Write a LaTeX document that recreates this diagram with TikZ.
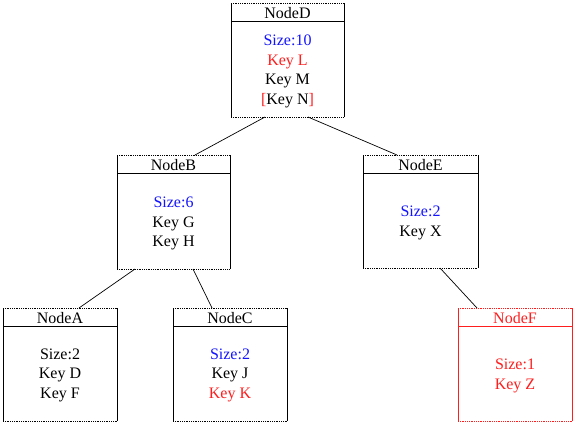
\documentclass[tikz,border=0pt]{standalone}
\usepackage{fontspec}
\setmainfont{Liberation Serif}
\usetikzlibrary{calc}
\definecolor{keyred}{RGB}{255,30,30}
\definecolor{keyblue}{RGB}{20,20,255}
\newcommand{\recbox}[6]{%
  \node[boxshape, minimum width=#4pt, minimum height=#5pt] (#1) at (#2,#3) {};
  \draw[#6, line width=0.8pt] (#1.north west) -- (#1.south west) (#1.north east) -- (#1.south east);
  \draw[#6, densely dotted, line width=0.8pt] (#1.north west) -- (#1.north east) (#1.south west) -- (#1.south east);
  \draw[#6, line width=1.1pt] ([yshift=-18.5pt]#1.north west) -- ([yshift=-18.5pt]#1.north east);
}
\begin{document}
\begin{tikzpicture}[x=1pt,y=-1pt,
  boxshape/.style={rectangle, inner sep=0pt, outer sep=0pt},
  txt/.style={font=\fontsize{16}{19.5}\selectfont, align=center, inner sep=0pt},
  edge/.style={line width=0.7pt, black}]
\useasboundingbox (0,0) rectangle (575,424);
\fill[white] (0,0) rectangle (575,424);
% boxes
\recbox{D}{287.5}{60}{113}{114}{black}
\recbox{B}{173.5}{212}{113}{114}{black}
\recbox{E}{420.5}{211.5}{115}{113}{black}
\recbox{A}{60}{364.5}{114}{113}{black}
\recbox{C}{230}{364.5}{114}{113}{black}
\recbox{F}{515}{364.5}{114}{113}{keyred}
% titles
\node[txt] (Dt) at (287.5,13) {NodeD};
\node[txt] (Bt) at (173.5,165) {NodeB};
\node[txt] (Et) at (420.5,165) {NodeE};
\node[txt] (At) at (60,318) {NodeA};
\node[txt] (Ct) at (230,318) {NodeC};
\node[txt, text=keyred] (Ft) at (515,318) {NodeF};
% contents
\node[txt] (Dc) at (287.5,71.5) {\textcolor{keyblue}{Size:10}\\ \textcolor{keyred}{Key L}\\ Key M\\ \textcolor{keyred}{[}Key N\textcolor{keyred}{]}};
\node[txt] (Bc) at (173.5,223.5) {\textcolor{keyblue}{Size:6}\\ Key G\\ Key H};
\node[txt] (Ec) at (420.5,223) {\textcolor{keyblue}{Size:2}\\ Key X};
\node[txt] (Ac) at (60,375) {Size:2\\ Key D\\ Key F};
\node[txt] (Cc) at (230,375) {\textcolor{keyblue}{Size:2}\\ Key J\\ \textcolor{keyred}{Key K}};
\node[txt, text=keyred] (Fc) at (515,376) {Size:1\\ Key Z};
% edges
\draw[edge] ([xshift=-22.5pt]D.south) -- ([xshift=21.5pt]B.north);
\draw[edge] ([xshift=20.5pt]D.south) -- ([xshift=-23.5pt]E.north);
\draw[edge] ([xshift=-38.5pt]B.south) -- ([xshift=19pt]A.north);
\draw[edge] ([xshift=19.5pt]B.south) -- ([xshift=-18pt]C.north);
\draw[edge] ([xshift=19.5pt]E.south) -- ([xshift=-38pt]F.north);
\end{tikzpicture}
\end{document}
